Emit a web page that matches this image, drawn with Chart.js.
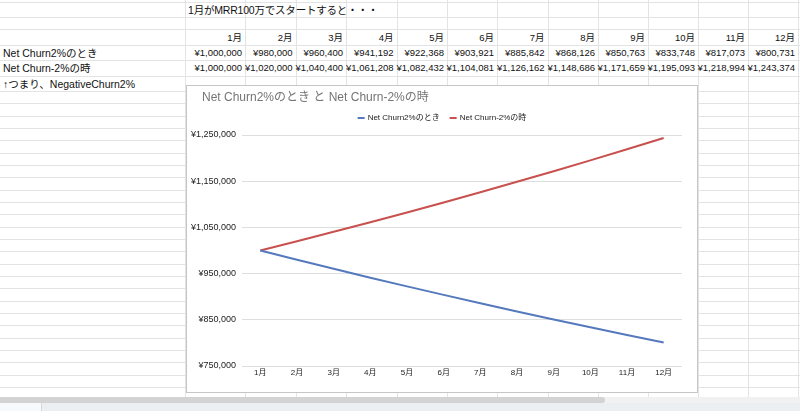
<!DOCTYPE html>
<html><head><meta charset="utf-8">
<script src="https://cdn.jsdelivr.net/npm/chart.js@4.4.1/dist/chart.umd.min.js"></script>
<style>
html,body{margin:0;padding:0;width:800px;height:411px;overflow:hidden;background:#fff;}
#sheet{position:absolute;left:0;top:0;width:800px;height:411px;font-family:"Liberation Sans",Arial,"Noto Sans CJK JP",sans-serif;color:#111;}
.h{position:absolute;height:1px;background:#e2e3e3;}
.v{position:absolute;width:1px;background:#e2e3e3;}
.t{position:absolute;white-space:nowrap;display:flex;align-items:center;}
#box{position:absolute;left:186px;top:85px;width:510px;height:306px;border:1px solid #c6c6c6;background:#fff;}
canvas{display:block}
#band{position:absolute;left:0;top:397px;width:800px;height:6px;background:#f1f1f1;}
#thumb{position:absolute;left:0;top:397px;width:605px;height:6px;background:#d3d3d3;border-radius:0 3px 3px 0;}
#tabs{position:absolute;left:0;top:403px;width:800px;height:8px;background:#eceff1;}
#tab0{position:absolute;left:0;top:403px;width:41px;height:8px;background:#f8f9fa;border-right:1px solid #d8d8d8;}
</style></head><body>
<div id="sheet"></div>
<div id="box"><canvas id="c" width="510" height="306"></canvas></div>
<div id="band"></div><div id="thumb"></div><div id="tabs"></div><div id="tab0"></div>
<script>
// ---- data ----
const months = ['1月','2月','3月','4月','5月','6月','7月','8月','9月','10月','11月','12月'];
const churnPositive = [1000000,980000,960400,941192,922368,903921,885842,868126,850763,833748,817073,800731];
const churnNegative = [1000000,1020000,1040400,1061208,1082432,1104081,1126162,1148686,1171659,1195093,1218994,1243374];
const seriesNames = ['Net Churn2%のとき','Net Churn-2%の時'];
const chartTitle = 'Net Churn2%のとき と Net Churn-2%の時';
const sheetTitle = '1月がMRR100万でスタートすると・・・';
const noteText = '↑つまり、NegativeChurn2%';
const yMin = 750000, yMax = 1250000, yStep = 100000;

// ---- spreadsheet ----
const sheet = document.getElementById('sheet');
const colX = [0,185,245,295.5,346,396.5,447,497,547.5,598,648,698,748,798];
const rowY = [2,17,29,44.5,60,75.5,91];
const fmt = v => '¥' + v.toLocaleString('en-US');
function add(cls, style, text){
  const d = document.createElement('div'); d.className = cls;
  Object.assign(d.style, style); if (text !== undefined) d.textContent = text;
  sheet.appendChild(d); return d;
}
const hLines = rowY.slice();
for (let y = 91 + 12.33; y < 397; y += 12.33) hLines.push(y);
hLines.forEach(y => add('h', {left:'0px', top: Math.round(y)+'px', width:'800px'}));
colX.slice(1).forEach(x => add('v', {left: Math.round(x)+'px', top:'0px', height:'397px'}));
function cell(col, row, text, align, size){
  const x0 = colX[col], x1 = colX[col+1] || 800;
  const y0 = rowY[row], y1 = rowY[row+1];
  add('t', {left:(x0+3)+'px', top:y0+'px', width:(x1-x0-6)+'px', height:(y1-y0)+'px',
    justifyContent: align==='right' ? 'flex-end' : 'flex-start', fontSize:size+'px'}, text);
}
add('t', {left:'188px', top:rowY[0]+'px', height:(rowY[1]-rowY[0])+'px', fontSize:'10.5px', letterSpacing:'-0.2px'}, sheetTitle);
months.forEach((m,i) => cell(i+1, 2, m, 'right', 9.5));
cell(0, 3, seriesNames[0], 'left', 10.5);
cell(0, 4, seriesNames[1], 'left', 10.5);
churnPositive.forEach((v,i) => cell(i+1, 3, fmt(v), 'right', 9.5));
churnNegative.forEach((v,i) => cell(i+1, 4, fmt(v), 'right', 9.5));
add('t', {left:'3px', top:rowY[5]+'px', height:(rowY[6]-rowY[5])+'px', fontSize:'10.5px'}, noteText);

// ---- chart ----
const FONT = '"Liberation Sans", Arial, "Noto Sans CJK JP", sans-serif';
const headerPlugin = {
  id: 'header',
  afterDraw(chart){
    const ctx = chart.ctx;
    ctx.save();
    ctx.textBaseline = 'middle'; ctx.textAlign = 'left';
    ctx.font = '12px ' + FONT; ctx.fillStyle = '#757575';
    ctx.fillText(chartTitle, 15, 12);
    ctx.font = '8px ' + FONT;
    const sw = 7, gap = 3, between = 10;
    const items = chart.data.datasets.map(d => ({t:d.label, c:d.borderColor, w:ctx.measureText(d.label).width}));
    const total = items.reduce((s,it) => s + sw + gap + it.w, 0) + between*(items.length-1);
    let x = (chart.width - total)/2;
    const y = 32;
    items.forEach(it => {
      ctx.fillStyle = it.c; ctx.fillRect(x, y-1, sw, 2);
      x += sw + gap;
      ctx.fillStyle = '#222'; ctx.fillText(it.t, x, y);
      x += it.w + between;
    });
    ctx.restore();
  }
};

new Chart(document.getElementById('c'), {
  type: 'line',
  data: {
    labels: months,
    datasets: [
      {label: seriesNames[0], data: churnPositive, borderColor:'#5479bd', backgroundColor:'#5479bd', borderWidth:2, pointRadius:0, tension:0},
      {label: seriesNames[1], data: churnNegative, borderColor:'#c8504e', backgroundColor:'#c8504e', borderWidth:2, pointRadius:0, tension:0}
    ]
  },
  options: {
    responsive: false,
    animation: false,
    layout: {padding: {top: 49, right: 15, left: 0, bottom: 0}},
    plugins: {legend: {display:false}, title: {display:false}, tooltip:{enabled:false}},
    scales: {
      x: {
        offset: true,
        grid: {display:false, drawTicks:false},
        border: {display:false},
        ticks: {padding: 2, color:'#222', font:{size:8, family:FONT}, maxRotation:0, autoSkip:false},
        afterFit: s => { s.height = 26; }
      },
      y: {
        min: yMin, max: yMax,
        grid: {color:'#dedede', lineWidth:1, drawTicks:false},
        border: {display:false},
        ticks: {stepSize: yStep, padding: 6, color:'#222', font:{size:9, family:FONT}, callback: v => fmt(v)},
        afterFit: s => { s.width = 55; }
      }
    }
  },
  plugins: [headerPlugin]
});
</script>
</body></html>
